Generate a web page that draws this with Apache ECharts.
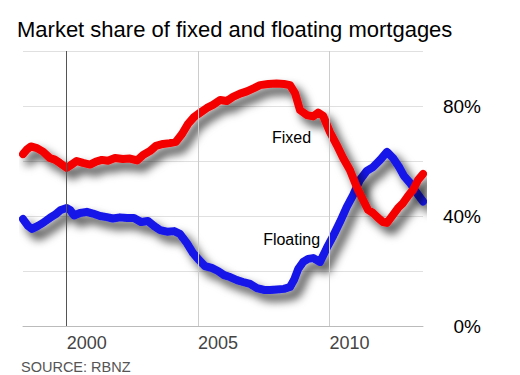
<!DOCTYPE html>
<html><head><meta charset="utf-8">
<script src="https://cdn.jsdelivr.net/npm/echarts@6/dist/echarts.min.js"></script>
<style>html,body{margin:0;padding:0;background:#fff}#c{width:520px;height:375px}</style>
</head><body><div id="c"></div>
<script>
const fixedYears = [1998.34,1998.50,1998.64,1998.87,1999.10,1999.36,1999.55,1999.74,2000.00,2000.16,2000.38,2000.62,2000.89,2001.12,2001.34,2001.57,2001.84,2002.14,2002.41,2002.68,2002.91,2003.17,2003.40,2003.67,2003.93,2004.16,2004.39,2004.62,2004.85,2005.07,2005.34,2005.57,2005.84,2006.09,2006.33,2006.60,2006.86,2007.13,2007.36,2007.67,2007.99,2008.27,2008.50,2008.69,2008.88,2009.14,2009.38,2009.57,2009.76,2010.02,2010.28,2010.52,2010.78,2011.04,2011.28,2011.47,2011.66,2011.85,2012.04,2012.19,2012.42,2012.61,2012.80,2012.99,2013.18,2013.37,2013.56];
const fixedValues = [62.5,64.3,65.3,64.7,63.4,61.1,60.5,59.3,57.5,58.5,60.0,59.3,58.7,59.8,60.4,60.1,61.1,60.7,60.9,60.2,62.2,63.6,65.5,66.2,66.5,67.0,69.8,73.5,76.0,77.5,79.3,80.4,82.2,81.8,83.3,84.5,85.3,86.5,87.6,88.0,88.2,88.0,87.6,84.7,78.5,76.7,76.2,77.6,76.4,70.5,65.8,61.1,56.7,50.5,45.8,42.2,41.1,39.3,37.8,37.5,40.4,42.9,44.7,47.3,49.5,53.1,55.3];
const floatYears = [1998.34,1998.53,1998.68,1998.91,1999.10,1999.36,1999.59,1999.78,2000.00,2000.13,2000.28,2000.51,2000.77,2001.00,2001.27,2001.53,2001.76,2002.03,2002.30,2002.56,2002.83,2003.09,2003.32,2003.55,2003.82,2004.09,2004.31,2004.57,2004.81,2005.04,2005.26,2005.52,2005.76,2005.99,2006.22,2006.48,2006.71,2006.98,2007.24,2007.51,2007.74,2008.00,2008.27,2008.50,2008.65,2008.81,2009.00,2009.19,2009.38,2009.64,2009.90,2010.14,2010.40,2010.66,2010.90,2011.16,2011.42,2011.66,2011.93,2012.19,2012.42,2012.65,2012.84,2013.07,2013.32,2013.56];
const floatValues = [38.9,36.4,35.3,36.4,37.5,39.3,40.7,42.2,42.9,42.2,40.2,41.1,41.5,40.9,40.0,39.6,39.1,39.5,39.3,39.3,37.8,38.2,36.4,34.9,34.3,34.5,33.5,30.2,26.5,24.0,21.8,21.1,20.0,18.5,17.8,16.7,16.0,15.3,13.8,13.1,13.1,13.3,13.5,14.2,16.7,20.7,23.3,24.4,24.7,23.3,28.4,32.7,37.8,43.3,47.6,53.1,56.4,57.8,60.4,63.3,61.1,57.8,54.5,52.0,48.4,45.3];
const xTickYears = [2000, 2005, 2010];
const yLabelValues = [0, 40, 80];
const seriesNames = ['Fixed', 'Floating'];

const pairs = (xs, ys) => xs.map((x, i) => [x, ys[i]]);
const chart = echarts.init(document.getElementById('c'), null, {renderer: 'svg'});
const FONT = 'Liberation Sans, Arial, sans-serif';
const tube = (color) => ({
  width: 8, color: color, cap: 'round', join: 'round', opacity: 1,
  shadowColor: 'rgba(0,0,0,0.75)', shadowBlur: 10, shadowOffsetX: 6, shadowOffsetY: 7
});
const lineLabel = (name, coord) => ({
  symbol: 'circle', symbolSize: 2, silent: true,
  itemStyle: {color: 'rgba(0,0,0,0)'},
  data: [{coord: coord, name: name}],
  label: {show: true, position: 'inside', formatter: name, fontFamily: FONT, fontSize: 16, color: '#000'}
});
chart.setOption({
  animation: false,
  backgroundColor: '#fff',
  title: [
    {text: 'Market share of fixed and floating mortgages', left: 12, top: 13,
     textStyle: {fontFamily: FONT, fontSize: 22, fontWeight: 'normal', color: '#000'}},
    {text: 'SOURCE: RBNZ', left: 16, top: 354,
     textStyle: {fontFamily: FONT, fontSize: 14.5, fontWeight: 'normal', color: '#555'}}
  ],
  grid: {left: 23, right: 97, top: 51, bottom: 49},
  xAxis: {
    type: 'value', min: 1998.34, max: 2013.56,
    axisLine: {show: true, lineStyle: {color: '#bbb', width: 1}},
    axisTick: {show: false},
    splitLine: {show: false},
    axisLabel: {customValues: xTickYears, align: 'left', margin: 8,
      fontFamily: FONT, fontSize: 18, color: '#444', formatter: v => String(Math.round(v))}
  },
  yAxis: {
    type: 'value', position: 'right', min: 0, max: 100, interval: 20,
    axisLine: {show: false}, axisTick: {show: false},
    splitLine: {lineStyle: {color: '#e0e0e0', width: 1}},
    axisLabel: {align: 'right', margin: 58, fontFamily: FONT, fontSize: 19, color: '#000',
      formatter: v => yLabelValues.indexOf(v) >= 0 ? v + '%' : ''}
  },
  series: [
    {type: 'line', data: [], z: 1, silent: true,
     markLine: {silent: true, symbol: 'none', label: {show: false},
       data: xTickYears.map((y, i) => ({xAxis: y,
         lineStyle: {type: 'solid', width: 1, color: i === 0 ? '#555' : '#ccc'}}))}},
    {name: seriesNames[1], type: 'line', z: 3, showSymbol: false, symbol: 'none',
     data: pairs(floatYears, floatValues), lineStyle: tube('#1414e8'),
     markPoint: lineLabel(seriesNames[1], [2008.56, 31.3])},
    {name: seriesNames[0], type: 'line', z: 4, showSymbol: false, symbol: 'none',
     data: pairs(fixedYears, fixedValues), lineStyle: tube('#f50000'),
     markPoint: lineLabel(seriesNames[0], [2008.56, 68.5])}
  ]
});
</script></body></html>
